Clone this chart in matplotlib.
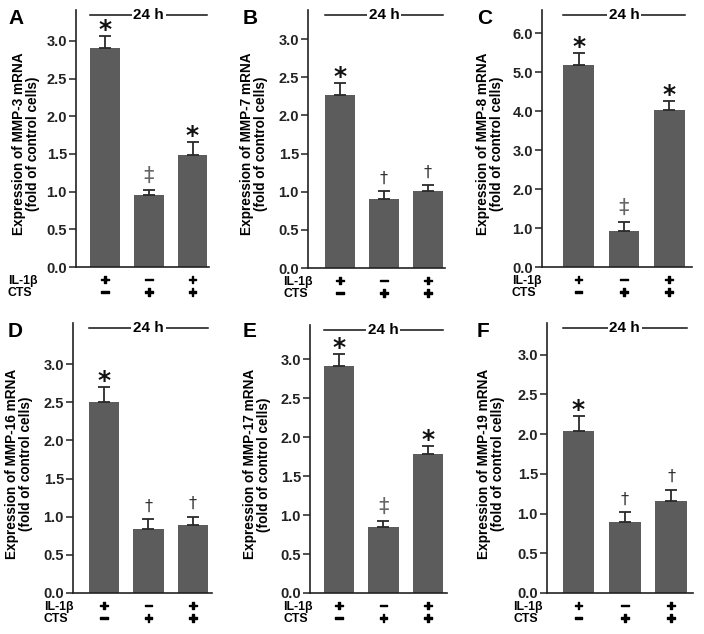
import matplotlib
matplotlib.use("Agg")
import matplotlib.pyplot as plt
import matplotlib.transforms as mtransforms
import matplotlib.patheffects as pe

plt.rcParams['font.family'] = ['Liberation Sans', 'DejaVu Sans']

# ---------------- data ----------------
panel_letters = ["A", "B", "C", "D", "E", "F"]
genes = ["MMP-3", "MMP-7", "MMP-8", "MMP-16", "MMP-17", "MMP-19"]

mmp3_mean = [2.90, 0.95, 1.48]
mmp3_err = [0.17, 0.07, 0.18]
mmp7_mean = [2.26, 0.91, 1.01]
mmp7_err = [0.16, 0.10, 0.08]
mmp8_mean = [5.19, 0.92, 4.02]
mmp8_err = [0.30, 0.23, 0.24]
mmp16_mean = [2.51, 0.84, 0.89]
mmp16_err = [0.19, 0.13, 0.11]
mmp17_mean = [2.91, 0.85, 1.78]
mmp17_err = [0.16, 0.08, 0.11]
mmp19_mean = [2.04, 0.89, 1.16]
mmp19_err = [0.19, 0.13, 0.14]

mmp3_marks = ["*", "\u2021", "*"]
mmp7_marks = ["*", "\u2020", "\u2020"]
mmp8_marks = ["*", "\u2021", "*"]
mmp16_marks = ["*", "\u2020", "\u2020"]
mmp17_marks = ["*", "\u2021", "*"]
mmp19_marks = ["*", "\u2020", "\u2020"]

il1b_row = ["+", "\u2212", "+"]
cts_row = ["\u2212", "+", "+"]
row_labels = ["IL-1\u03b2", "CTS"]
time_label = "24 h"

ticks_std = [0.0, 0.5, 1.0, 1.5, 2.0, 2.5, 3.0]
ticks_mmp8 = [0.0, 1.0, 2.0, 3.0, 4.0, 5.0, 6.0]

means = [mmp3_mean, mmp7_mean, mmp8_mean, mmp16_mean, mmp17_mean, mmp19_mean]
errs = [mmp3_err, mmp7_err, mmp8_err, mmp16_err, mmp17_err, mmp19_err]
marks = [mmp3_marks, mmp7_marks, mmp8_marks, mmp16_marks, mmp17_marks, mmp19_marks]
yticks = [ticks_std, ticks_std, ticks_mmp8, ticks_std, ticks_std, ticks_std]

# ---------------- layout (pixels) ----------------
W, H = 704, 634
fig = plt.figure(figsize=(W / 100, H / 100), dpi=100)

# left, top, right, bottom in pixels
rects = [(76, 10, 209, 267), (308, 10, 445, 268), (542, 10, 692, 267),
         (73, 323, 212, 593), (310, 325, 447, 593), (547, 323, 693, 593)]
ylims = [3.41, 3.38, 6.59, 3.54, 3.44, 3.40]
xlims = [(-0.663, 2.377), (-0.727, 2.386), (-0.807, 2.502),
         (-0.70, 2.43), (-0.65, 2.43), (-0.68, 2.47)]
row_label_dx = [-68, -25, -30, -29, -27, -34]   # px from spine
ylabel_dx = [-50, -54, -52, -54, -53, -56]       # px from spine
letter_pos = [(8, 24), (243, 24), (477, 24), (8, 337), (243, 337), (477, 337)]

bar_color = "#5c5c5c"
err_color = "#2a2a2a"
PT = 72 / 100.0  # points per pixel
thick = [pe.withStroke(linewidth=1.0, foreground="black")]

for i in range(6):
    l, t, r, b = rects[i]
    ax = fig.add_axes([l / W, 1 - b / H, (r - l) / W, (b - t) / H])
    x = list(range(3))
    ax.bar(x, means[i], width=0.68, color=bar_color, zorder=2)
    ax.errorbar(x, means[i], yerr=[[0, 0, 0], errs[i]], fmt="none",
                ecolor=err_color, elinewidth=1.3, capsize=4.5, capthick=1.3,
                zorder=3)
    ax.set_xlim(*xlims[i])
    ax.set_ylim(0, ylims[i])
    ax.set_yticks(yticks[i])
    ax.set_yticklabels(["%.1f" % v for v in yticks[i]], fontweight="bold",
                       fontsize=10.5)
    ax.set_xticks([])
    for s in ["top", "right"]:
        ax.spines[s].set_visible(False)
    for s in ["left", "bottom"]:
        ax.spines[s].set_linewidth(1.2)
        ax.spines[s].set_color("#222222")
    ax.tick_params(axis="y", direction="out", length=5, width=1.1,
                   pad=1.5, colors="#222222")

    # y label
    ax.annotate("Expression of %s mRNA\n(fold of control cells)" % genes[i],
                xy=(0, 0.48), xycoords="axes fraction",
                xytext=(ylabel_dx[i] * PT, 0), textcoords="offset points",
                rotation=90, ha="center", va="center", fontsize=9.8,
                fontweight="bold", linespacing=1.05)

    # significance marks
    for j in range(3):
        top = means[i][j] + errs[i][j]
        m = marks[i][j]
        if m == "*":
            ax.annotate(m, xy=(x[j], top), xytext=(0, 6 * PT),
                        textcoords="offset points", ha="center", va="center",
                        fontsize=18, fontweight="bold", color="#111111",
                        family="DejaVu Sans")
        elif m == "\u2020":
            ax.annotate(m, xy=(x[j], top), xytext=(0, 13 * PT),
                        textcoords="offset points", ha="center", va="center",
                        fontsize=11.5, color="#333333", family="DejaVu Sans")
        else:
            ax.annotate(m, xy=(x[j], top), xytext=(0, 14 * PT),
                        textcoords="offset points", ha="center", va="center",
                        fontsize=15, color="#666666", family="DejaVu Sans")

    # 24 h line
    trans = mtransforms.blended_transform_factory(ax.transData, ax.transAxes)
    x0 = x[0] - 0.34
    x1 = x[2] + 0.34
    ax.plot([x0, x1], [0.98, 0.98], color="#111111", lw=1.1,
            transform=trans, clip_on=False, zorder=4)
    ax.text((x0 + x1) / 2, 0.98, time_label, transform=trans, ha="center",
            va="center", fontsize=11, fontweight="bold", zorder=5,
            bbox=dict(facecolor="white", edgecolor="none", pad=1.2))

    # condition rows
    for row, (lab, syms, dy) in enumerate(zip(row_labels, [il1b_row, cts_row],
                                              [-13.7, -26.3])):
        ax.annotate(lab, xy=(0, 0), xycoords="axes fraction",
                    xytext=(row_label_dx[i] * PT, dy * PT),
                    textcoords="offset points", ha="left", va="center",
                    fontsize=8.8, fontweight="bold")
        for j in range(3):
            ax.annotate(syms[j], xy=(x[j], 0),
                        xycoords=("data", "axes fraction"),
                        xytext=(0, dy * PT), textcoords="offset points",
                        ha="center", va="center", fontsize=11,
                        fontweight="bold", path_effects=thick)

    # panel letter
    lx, ly = letter_pos[i]
    fig.text(lx / W, 1 - ly / H, panel_letters[i], fontsize=15,
             fontweight="bold", ha="left", va="baseline")

fig.savefig("out.png", dpi=100, facecolor="white")
